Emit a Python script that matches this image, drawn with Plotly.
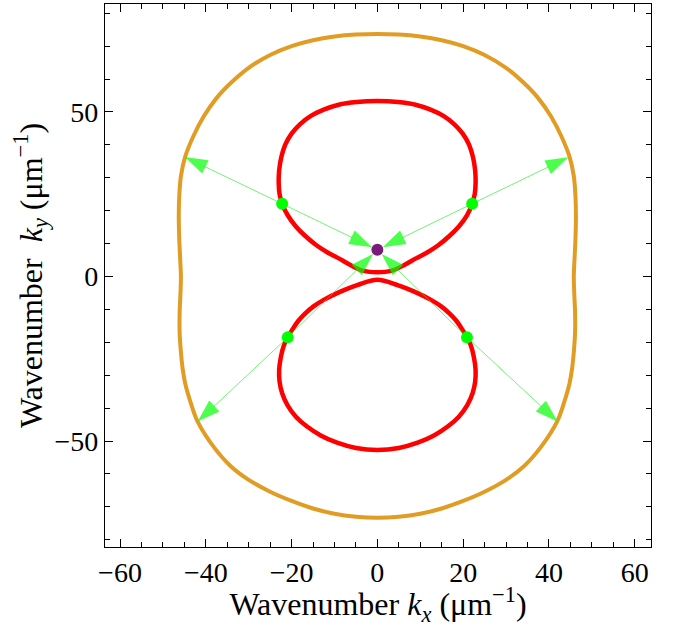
import plotly.graph_objects as go

# ---- data ----
# outer (orange) contour, counterclockwise starting at the top
orange_kx = [0, -5.0, -10.0, -15.0, -20.0, -25.0, -30.0, -34.0, -37.5, -40.5, -42.9, -44.8,
             -45.8, -46.2, -46.3, -46.2, -46.0, -45.8, -45.9, -46.1, -46.1, -45.8, -45.4,
             -44.8, -43.6, -41.9, -38.2, -34.3, -30.0, -25.0, -20.0, -15.0, -10.0, -5.0, 0,
             5.0, 10.0, 15.0, 20.0, 25.0, 30.0, 34.3, 38.2, 41.9, 43.6, 44.8, 45.4, 45.8,
             46.1, 46.1, 45.9, 45.8, 46.0, 46.2, 46.3, 46.2, 45.8, 44.8, 42.9, 40.5, 37.5,
             34.0, 30.0, 25.0, 20.0, 15.0, 10.0, 5.0, 0]
orange_ky = [73.7, 73.5, 72.9, 71.8, 70.0, 67.3, 63.4, 59.0, 54.2, 48.6, 42.6, 36.4,
             30.5, 24.0, 18.2, 12.0, 6.0, 0.0, -5.0, -11.0, -17.0, -23.0, -28.0,
             -32.5, -38.0, -44.1, -51.7, -57.5, -61.8, -65.4, -68.2, -70.5, -72.1, -73.0, -73.3,
             -73.0, -72.1, -70.5, -68.2, -65.4, -61.8, -57.5, -51.7, -44.1, -38.0, -32.5,
             -28.0, -23.0, -17.0, -11.0, -5.0, 0.0, 6.0, 12.0, 18.2, 24.0, 30.5, 36.4, 42.6,
             48.6, 54.2, 59.0, 63.4, 67.3, 70.0, 71.8, 72.9, 73.5, 73.7]

# upper red loop
upper_kx = [0, -4.8, -9.0, -12.5, -15.5, -18.0, -20.0, -21.5, -22.4, -22.9, -23.0, -22.8,
            -22.2, -20.9, -19.0, -16.8, -14.2, -11.6, -9.0, -6.3, -3.2, 0,
            3.2, 6.3, 9.0, 11.6, 14.2, 16.8, 19.0, 20.9, 22.1, 22.7, 22.9, 22.8, 22.3,
            21.4, 19.9, 17.9, 15.4, 12.4, 8.9, 4.8, 0]
upper_ky = [53.3, 53.0, 52.2, 50.7, 48.8, 46.3, 43.4, 40.0, 36.2, 32.2, 28.3, 25.0,
            22.1, 18.6, 15.2, 12.3, 9.5, 7.3, 5.5, 3.5, 1.7, 1.3,
            1.7, 3.5, 5.5, 7.3, 9.5, 12.3, 15.2, 18.6, 22.1, 25.0, 28.3, 32.2, 36.2,
            40.0, 43.4, 46.3, 48.8, 50.7, 52.2, 53.0, 53.3]

# lower red loop
lower_kx = [0, -4.7, -8.6, -12.5, -14.8, -16.8, -18.5, -19.9, -20.9, -21.8, -22.5, -22.9,
            -22.8, -22.2, -21.0, -19.0, -16.4, -13.2, -9.4, -5.0, 0,
            5.0, 9.4, 13.2, 16.4, 19.0, 21.0, 22.2, 22.8, 22.9, 22.5, 21.8, 20.9, 19.9,
            18.5, 16.8, 14.8, 12.5, 8.6, 4.7, 0]
lower_ky = [-1.0, -2.6, -4.6, -7.1, -9.0, -11.2, -13.6, -16.3, -18.5, -21.0, -24.5, -28.4,
            -32.0, -35.5, -39.0, -42.6, -45.6, -48.3, -50.5, -52.1, -52.7,
            -52.1, -50.5, -48.3, -45.6, -42.6, -39.0, -35.5, -32.0, -28.4, -24.5, -21.0,
            -18.5, -16.3, -13.6, -11.2, -9.0, -7.1, -4.6, -2.6, -1.0]

# special points
center_kx = [0.0]
center_ky = [8.1]
dot_kx = [-22.2, 22.1, -20.9, 20.9]
dot_ky = [22.1, 22.1, -18.5, -18.5]
tip_kx = [-44.9, 44.5, -41.9, 42.0]
tip_ky = [36.3, 36.2, -44.1, -44.1]

x_ticks = [-60, -40, -20, 0, 20, 40, 60]
x_tick_text = ["\u221260", "\u221240", "\u221220", "0", "20", "40", "60"]
y_ticks = [-50, 0, 50]
y_tick_text = ["\u221250", "0", "50"]

ORANGE = "#e19c24"
RED = "#ff0000"
GREEN = "#00ff00"
LINE_GREEN = "rgba(40,235,40,0.65)"
PURPLE = "#7a1a7a"
FONT = "Liberation Serif"

fig = go.Figure()
for xs, ys, col, w in [(orange_kx, orange_ky, ORANGE, 4), (upper_kx, upper_ky, RED, 4.5),
                       (lower_kx, lower_ky, RED, 4.5)]:
    fig.add_trace(go.Scatter(x=xs, y=ys, mode="lines",
                             line=dict(color=col, width=w, shape="spline", smoothing=1.0),
                             hoverinfo="skip"))

fig.add_trace(go.Scatter(x=center_kx, y=center_ky, mode="markers",
                         marker=dict(color=PURPLE, size=12, line=dict(width=0))))

for i in range(len(dot_kx)):
    # arrow from the green point to the centre
    fig.add_trace(go.Scatter(
        x=[dot_kx[i], center_kx[0]], y=[dot_ky[i], center_ky[0]], mode="lines+markers",
        line=dict(color=LINE_GREEN, width=1),
        marker=dict(symbol="arrow", angleref="previous", size=[0, 24], color=GREEN,
                    standoff=6, line=dict(width=0))))
    # arrow from the green point to the outer contour
    fig.add_trace(go.Scatter(
        x=[dot_kx[i], tip_kx[i]], y=[dot_ky[i], tip_ky[i]], mode="lines+markers",
        line=dict(color=LINE_GREEN, width=1),
        marker=dict(symbol="arrow", angleref="previous", size=[0, 24], color=GREEN,
                    standoff=0, line=dict(width=0))))

fig.add_trace(go.Scatter(x=dot_kx, y=dot_ky, mode="markers",
                         marker=dict(color=GREEN, size=12, line=dict(width=0))))

axis_common = dict(
    ticks="inside", ticklen=8, tickwidth=1.2, tickcolor="black",
    showline=True, linecolor="black", linewidth=1.3, mirror="ticks",
    showgrid=False, zeroline=False,
    tickfont=dict(family=FONT, size=28, color="black"),
)

fig.update_xaxes(
    range=[-63.5, 63.8], tickvals=x_ticks, ticktext=x_tick_text,
    minor=dict(dtick=5, tick0=0, ticks="inside", ticklen=4.5, tickwidth=1, tickcolor="black"),
    title=dict(text="Wavenumber <i>k</i><sub><i>x</i></sub> (\u03bcm<sup>\u22121</sup>)",
               font=dict(family=FONT, size=32, color="black"), standoff=1),
    **axis_common)
fig.update_yaxes(
    range=[-82.2, 82.8], tickvals=y_ticks, ticktext=y_tick_text,
    minor=dict(dtick=10, tick0=0, ticks="inside", ticklen=4.5, tickwidth=1, tickcolor="black"),
    title=dict(text="Wavenumber\u00a0 <i>k</i><sub><i>y</i></sub> (\u03bcm<sup>\u22121</sup>)",
               font=dict(family=FONT, size=32, color="black"), standoff=2),
    **axis_common)

fig.update_layout(
    width=681, height=627,
    margin=dict(l=105, r=30, t=4, b=80, autoexpand=False),
    plot_bgcolor="white", paper_bgcolor="white",
    showlegend=False,
)

fig.write_html("out.html", config={"displayModeBar": False},
               post_script="document.body.style.margin='0px';")
